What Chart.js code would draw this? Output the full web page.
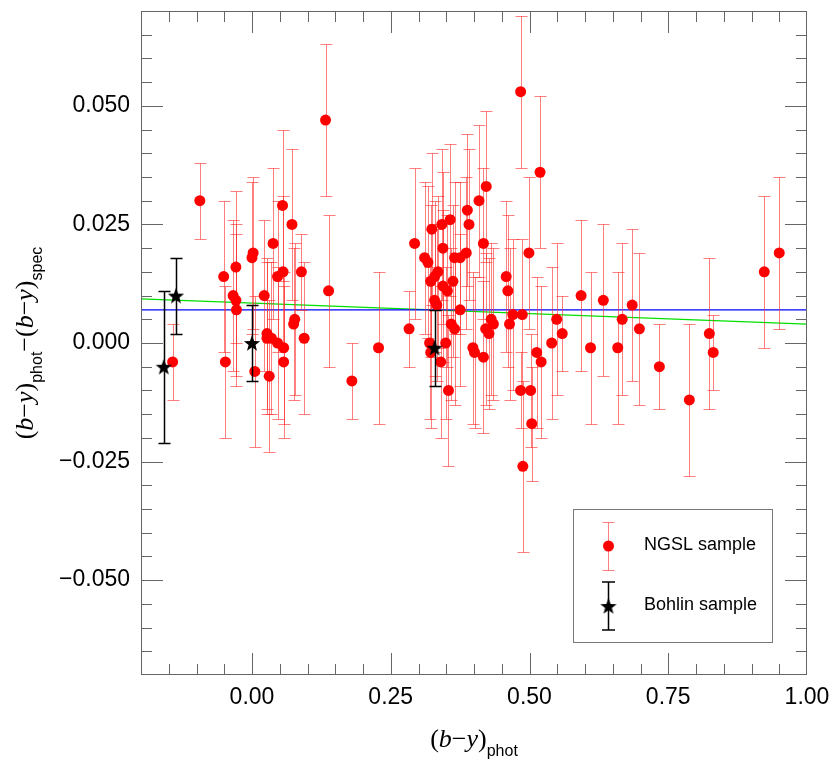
<!DOCTYPE html>
<html>
<head>
<meta charset="utf-8">
<script src="https://cdn.jsdelivr.net/npm/chart.js@4.4.1/dist/chart.umd.min.js"></script>
<style>
  html, body { margin: 0; padding: 0; background: #fff; }
  #wrap { width: 830px; height: 764px; }
</style>
</head>
<body>
<div id="wrap"><canvas id="colorChart" width="830" height="764"></canvas></div>
<script>
// NGSL sample: (b-y)phot, (b-y)phot - (b-y)spec, error
const ngslX = [
  -0.143, -0.094, -0.051, -0.048, -0.034, -0.029, -0.029, -0.028, 0.000, 0.002,
  0.005, 0.022, 0.027, 0.027, 0.031, 0.035, 0.038, 0.046, 0.046, 0.055,
  0.056, 0.057, 0.057, 0.072, 0.075, 0.077, 0.089, 0.094, 0.1325, 0.138,
  0.180, 0.228, 0.283, 0.293, 0.311, 0.317, 0.320, 0.322, 0.322, 0.324,
  0.329, 0.329, 0.333, 0.335, 0.340, 0.342, 0.344, 0.344, 0.349, 0.352,
  0.354, 0.357, 0.359, 0.362, 0.365, 0.365, 0.375, 0.375, 0.386, 0.388,
  0.391, 0.398, 0.401, 0.409, 0.417, 0.417, 0.421, 0.422, 0.427, 0.431,
  0.435, 0.458, 0.461, 0.464, 0.470, 0.484, 0.484, 0.487, 0.488, 0.499,
  0.502, 0.504, 0.513, 0.519, 0.521, 0.540, 0.549, 0.559, 0.593, 0.610,
  0.633, 0.659, 0.667, 0.685, 0.698, 0.734, 0.788, 0.824, 0.831, 0.923,
  0.950
];
const ngslY = [
  -0.004, 0.030, 0.014, -0.004, 0.010, 0.016, 0.009, 0.007, 0.018, 0.019,
  -0.006, 0.010, 0.002, 0.001, -0.007, 0.001, 0.021, 0.000, 0.014, 0.029,
  0.015, -0.001, -0.004, 0.025, 0.004, 0.005, 0.015, 0.001, 0.047, 0.011,
  -0.008, -0.001, 0.003, 0.021, 0.018, 0.017, 0.000, 0.013, -0.002, 0.024,
  0.014, 0.009, 0.008, 0.015, -0.004, 0.025, 0.020, 0.012, 0.000, 0.011,
  -0.010, 0.026, 0.004, 0.013, 0.018, 0.003, 0.007, 0.018, 0.019, 0.028,
  0.025, -0.001, -0.002, 0.030, 0.021, -0.003, 0.003, 0.033, 0.002, 0.005,
  0.004, 0.014, 0.011, 0.004, 0.006, 0.053, -0.010, 0.006, -0.026, 0.019,
  -0.010, -0.017, -0.002, 0.036, -0.004, 0.000, 0.005, 0.002, 0.010, -0.001,
  0.009, -0.001, 0.005, 0.008, 0.003, -0.005, -0.012, 0.002, -0.002, 0.015,
  0.019
];
const ngslErr = [
  0.008, 0.008, 0.016, 0.016, 0.016, 0.016, 0.016, 0.016, 0.016, 0.016,
  0.016, 0.016, 0.016, 0.016, 0.016, 0.016, 0.016, 0.016, 0.016, 0.016,
  0.016, 0.016, 0.016, 0.016, 0.016, 0.016, 0.008, 0.016, 0.016, 0.016,
  0.008, 0.016, 0.008, 0.016, 0.016, 0.016, 0.016, 0.016, 0.016, 0.016,
  0.016, 0.016, 0.016, 0.016, 0.016, 0.016, 0.016, 0.016, 0.016, 0.016,
  0.016, 0.016, 0.016, 0.016, 0.016, 0.016, 0.016, 0.016, 0.016, 0.016,
  0.016, 0.016, 0.016, 0.016, 0.016, 0.016, 0.016, 0.016, 0.016, 0.016,
  0.016, 0.016, 0.016, 0.016, 0.016, 0.016, 0.008, 0.016, 0.018, 0.016,
  0.012, 0.012, 0.016, 0.016, 0.016, 0.016, 0.016, 0.008, 0.016, 0.016,
  0.016, 0.016, 0.016, 0.016, 0.016, 0.009, 0.016, 0.016, 0.008, 0.016,
  0.016
];

// Bohlin sample
const bohlinX = [-0.159, -0.137, 0.000, 0.329];
const bohlinY = [-0.005, 0.010, 0.000, -0.001];
const bohlinErr = [0.016, 0.008, 0.008, 0.008];

// mean offset (blue) and linear fit (green)
const meanX = [-0.2, 1.0];
const meanY = [0.007, 0.007];
const fitX = [-0.2, 1.0];
const fitY = [0.0093, 0.0040];

const xTicks = [0, 0.25, 0.5, 0.75, 1.0];
const yTicks = [-0.05, -0.025, 0, 0.025, 0.05];

const toPoints = (xs, ys) => xs.map((x, i) => ({ x: x, y: ys[i] }));

// filled five-point star for the Bohlin points
function makeStar(size, r) {
  const c = document.createElement('canvas');
  c.width = size; c.height = size;
  const g = c.getContext('2d');
  const cx = size / 2, cy = size / 2 + 0.8;
  g.beginPath();
  for (let i = 0; i < 10; i++) {
    const rad = i % 2 === 0 ? r : r * 0.42;
    const a = -Math.PI / 2 + i * Math.PI / 5;
    g.lineTo(cx + rad * Math.cos(a), cy + rad * Math.sin(a));
  }
  g.closePath();
  g.fillStyle = '#000';
  g.fill();
  return c;
}
const star = makeStar(20, 8.5);

const errorBarPlugin = {
  id: 'errorBars',
  beforeDatasetDraw(chart, args) {
    const ds = chart.data.datasets[args.index];
    if (!ds.errors) return;
    const ctx = chart.ctx, xs = chart.scales.x, ys = chart.scales.y;
    ctx.save();
    ctx.strokeStyle = ds.errorColor;
    ctx.lineWidth = ds.errorWidth;
    ds.data.forEach((p, i) => {
      const px = Math.round(xs.getPixelForValue(p.x)) + 0.5;
      const top = Math.round(ys.getPixelForValue(p.y + ds.errors[i])) + 0.5;
      const bot = Math.round(ys.getPixelForValue(p.y - ds.errors[i])) + 0.5;
      ctx.beginPath();
      ctx.moveTo(px, top); ctx.lineTo(px, bot);
      ctx.moveTo(px - 6, top); ctx.lineTo(px + 6, top);
      ctx.moveTo(px - 6, bot); ctx.lineTo(px + 6, bot);
      ctx.stroke();
    });
    ctx.restore();
  }
};

const framePlugin = {
  id: 'frame',
  afterDatasetsDraw(chart) {
    const { ctx, chartArea: a } = chart;
    const x = chart.scales.x, y = chart.scales.y;
    ctx.save();
    ctx.strokeStyle = '#666';
    ctx.lineWidth = 1;
    ctx.strokeRect(a.left + 0.5, a.top + 0.5, a.right - a.left - 1, a.bottom - a.top - 1);
    ctx.beginPath();
    for (let i = -3; i < 20; i++) {
      const px = Math.round(x.getPixelForValue(i * 0.05)) + 0.5;
      const len = i % 5 === 0 ? 22 : 11;
      ctx.moveTo(px, a.bottom); ctx.lineTo(px, a.bottom - len);
      ctx.moveTo(px, a.top); ctx.lineTo(px, a.top + len);
    }
    for (let i = -13; i < 14; i++) {
      const py = Math.round(y.getPixelForValue(i * 0.005)) + 0.5;
      const len = i % 5 === 0 ? 22 : 11;
      ctx.moveTo(a.left, py); ctx.lineTo(a.left + len, py);
      ctx.moveTo(a.right, py); ctx.lineTo(a.right - len, py);
    }
    ctx.stroke();
    ctx.restore();
  }
};

// mixed-font text: (b−y) in serif italic with a sans subscript
const SERIF = '"Liberation Serif", "DejaVu Serif", serif';
const SANS = '"Liberation Sans", Arial, sans-serif';
function bmy(sub) {
  return [
    { t: '(', f: '26px ' + SERIF },
    { t: 'b', f: 'italic 26px ' + SERIF },
    { t: '\u2212', f: '26px ' + SERIF },
    { t: 'y', f: 'italic 26px ' + SERIF },
    { t: ')', f: '26px ' + SERIF },
    { t: sub, f: '16px ' + SANS, dy: 9 }
  ];
}
function drawRich(ctx, parts, cx, baseY) {
  let total = 0;
  parts.forEach(p => { ctx.font = p.f; p.w = ctx.measureText(p.t).width; total += p.w; });
  let x = cx - total / 2;
  parts.forEach(p => {
    ctx.font = p.f;
    ctx.fillText(p.t, x, baseY + (p.dy || 0));
    x += p.w;
  });
}

const titlePlugin = {
  id: 'axisTitles',
  afterDraw(chart) {
    const { ctx, chartArea: a } = chart;
    ctx.save();
    ctx.fillStyle = '#000';
    ctx.textBaseline = 'alphabetic';
    ctx.textAlign = 'left';
    drawRich(ctx, bmy('phot'), (a.left + a.right) / 2, 747);
    ctx.translate(33, (a.top + a.bottom) / 2);
    ctx.rotate(-Math.PI / 2);
    const yParts = bmy('phot').concat([{ t: '\u2212', f: '26px ' + SERIF }], bmy('spec'));
    drawRich(ctx, yParts, 0, 0);
    ctx.restore();
  }
};

const legendPlugin = {
  id: 'boxLegend',
  afterDraw(chart) {
    const ctx = chart.ctx;
    ctx.save();
    ctx.strokeStyle = '#777';
    ctx.lineWidth = 1;
    ctx.strokeRect(573.5, 509.5, 199, 133);
    // NGSL entry
    ctx.strokeStyle = 'rgba(255,40,40,0.6)';
    ctx.beginPath();
    ctx.moveTo(608.5, 522.5); ctx.lineTo(608.5, 570.5);
    ctx.moveTo(602.5, 522.5); ctx.lineTo(614.5, 522.5);
    ctx.moveTo(602.5, 570.5); ctx.lineTo(614.5, 570.5);
    ctx.stroke();
    ctx.fillStyle = '#ff0000';
    ctx.beginPath();
    ctx.arc(608.5, 546, 5.5, 0, Math.PI * 2);
    ctx.fill();
    // Bohlin entry
    ctx.strokeStyle = '#000';
    ctx.lineWidth = 1.5;
    ctx.beginPath();
    ctx.moveTo(608.5, 582); ctx.lineTo(608.5, 630);
    ctx.moveTo(602, 582); ctx.lineTo(615, 582);
    ctx.moveTo(602, 630); ctx.lineTo(615, 630);
    ctx.stroke();
    ctx.drawImage(star, 608.5 - 10, 606 - 10);
    ctx.fillStyle = '#000';
    ctx.font = '18px ' + SANS;
    ctx.textBaseline = 'middle';
    ctx.fillText('NGSL sample', 644, 545);
    ctx.fillText('Bohlin sample', 644, 605);
    ctx.restore();
  }
};

const fmtMinus = (v, d) => (v < -1e-9 ? '\u2212' + Math.abs(v).toFixed(d) : Math.abs(v).toFixed(d));

// keep the tick labels from pushing the plot area inwards
function noLabelPadding(scale) {
  scale.paddingTop = 0;
  scale.paddingBottom = 0;
  scale.paddingLeft = 0;
  scale.paddingRight = 0;
}

new Chart(document.getElementById('colorChart').getContext('2d'), {
  type: 'scatter',
  data: {
    datasets: [
      {
        type: 'line',
        label: 'mean',
        data: toPoints(meanX, meanY),
        borderColor: '#0000ff',
        borderWidth: 1.3,
        pointRadius: 0,
        order: 3
      },
      {
        type: 'line',
        label: 'fit',
        data: toPoints(fitX, fitY),
        borderColor: '#00e000',
        borderWidth: 1.3,
        pointRadius: 0,
        order: 3
      },
      {
        label: 'NGSL sample',
        data: toPoints(ngslX, ngslY),
        errors: ngslErr,
        errorColor: 'rgba(255,40,40,0.6)',
        errorWidth: 1,
        pointRadius: 5.5,
        pointBackgroundColor: '#ff0000',
        pointBorderWidth: 0,
        order: 2
      },
      {
        label: 'Bohlin sample',
        data: toPoints(bohlinX, bohlinY),
        errors: bohlinErr,
        errorColor: '#000',
        errorWidth: 1.5,
        pointStyle: star,
        pointRadius: 8,
        order: 1
      }
    ]
  },
  options: {
    responsive: false,
    animation: false,
    events: [],
    layout: { padding: { left: 0, right: 23, top: 11, bottom: 0 } },
    plugins: {
      legend: { display: false },
      tooltip: { enabled: false }
    },
    scales: {
      x: {
        type: 'linear',
        min: -0.2,
        max: 1.0,
        afterBuildTicks: function(scale) { scale.ticks = xTicks.map(v => ({ value: v })); },
        afterFit: function(scale) { scale.height = 89; noLabelPadding(scale); },
        grid: { display: false, drawTicks: false },
        border: { display: false },
        ticks: {
          padding: 9,
          maxRotation: 0,
          autoSkip: false,
          color: '#000',
          font: { family: SANS, size: 23 },
          callback: function(value) { return fmtMinus(value, 2); }
        }
      },
      y: {
        type: 'linear',
        min: -0.07,
        max: 0.07,
        afterBuildTicks: function(scale) { scale.ticks = yTicks.map(v => ({ value: v })); },
        afterFit: function(scale) { scale.width = 141; noLabelPadding(scale); },
        grid: { display: false, drawTicks: false },
        border: { display: false },
        ticks: {
          padding: 11,
          autoSkip: false,
          color: '#000',
          font: { family: SANS, size: 23 },
          callback: function(value) { return fmtMinus(value, 3); }
        }
      }
    }
  },
  plugins: [errorBarPlugin, framePlugin, titlePlugin, legendPlugin]
});
</script>
</body>
</html>
